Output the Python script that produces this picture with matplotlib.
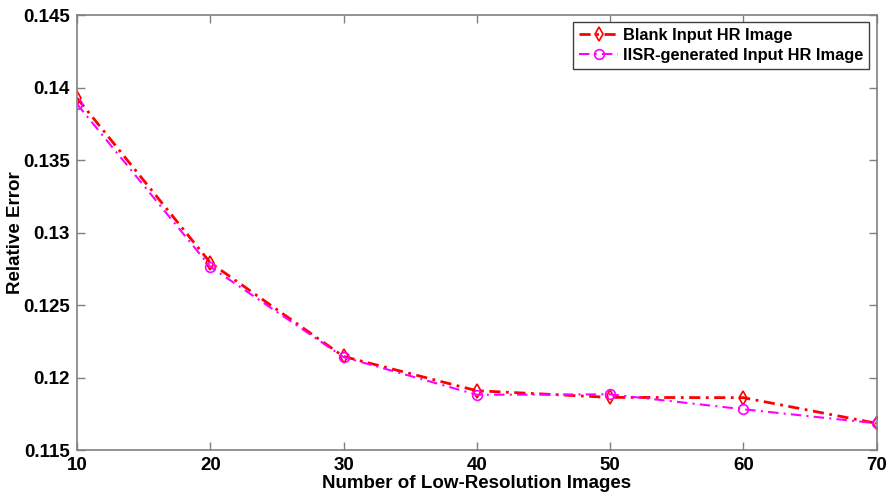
import matplotlib
matplotlib.use('Agg')
import matplotlib.pyplot as plt

# number of low-resolution images
num_images = [10, 20, 30, 40, 50, 60, 70]

# relative error for each initial HR estimate
blank_err = [0.13928, 0.12792, 0.12145, 0.11909, 0.11863, 0.11861, 0.11684]
iisr_err = [0.13886, 0.12764, 0.12141, 0.11881, 0.11884, 0.11781, 0.11684]

y_ticks = [0.115, 0.12, 0.125, 0.13, 0.135, 0.14, 0.145]
y_tick_labels = ['0.115', '0.12', '0.125', '0.13', '0.135', '0.14', '0.145']

plt.rcParams['font.family'] = ['Liberation Sans', 'DejaVu Sans']

fig = plt.figure(figsize=(8.9, 4.96), dpi=100)
ax = fig.add_axes([0.0865, 0.0927, 0.8985, 0.877])

ax.plot(num_images, blank_err, color='red', linestyle=(0, (4, 2, 1, 2)), linewidth=2,
        marker='d', markersize=7, markerfacecolor='none', markeredgecolor='red',
        markeredgewidth=1.2, label='Blank Input HR Image')
ax.plot(num_images, iisr_err, color='magenta', linestyle=(0, (5, 2.5, 1, 2.5)), linewidth=1.5,
        marker='o', markersize=7, markerfacecolor='none', markeredgecolor='magenta',
        markeredgewidth=1.2, label='IISR-generated Input HR Image')

ax.set_xlim(10, 70)
ax.set_ylim(0.115, 0.145)
ax.set_xticks(num_images)
ax.set_yticks(y_ticks)
ax.set_yticklabels(y_tick_labels)
ax.tick_params(direction='in', top=True, right=True, length=6, width=1,
               color='#808080', labelsize=13.5, pad=5)
for lbl in ax.get_xticklabels() + ax.get_yticklabels():
    lbl.set_fontweight('bold')
for sp in ax.spines.values():
    sp.set_color('#808080')
    sp.set_linewidth(1.2)

ax.set_xlabel('Number of Low-Resolution Images', fontsize=13.5, fontweight='bold', labelpad=1)
ax.set_ylabel('Relative Error', fontsize=13.5, fontweight='bold')
ax.yaxis.set_label_coords(-0.066, 0.5)

leg = ax.legend(loc='upper right', prop={'weight': 'bold', 'size': 11.8},
                fancybox=False, edgecolor='#404040', framealpha=1,
                borderpad=0.35, handlelength=2.4, handletextpad=0.3,
                labelspacing=0.3, borderaxespad=0.45)
leg.get_frame().set_linewidth(1)

fig.savefig('out.png', dpi=100)
